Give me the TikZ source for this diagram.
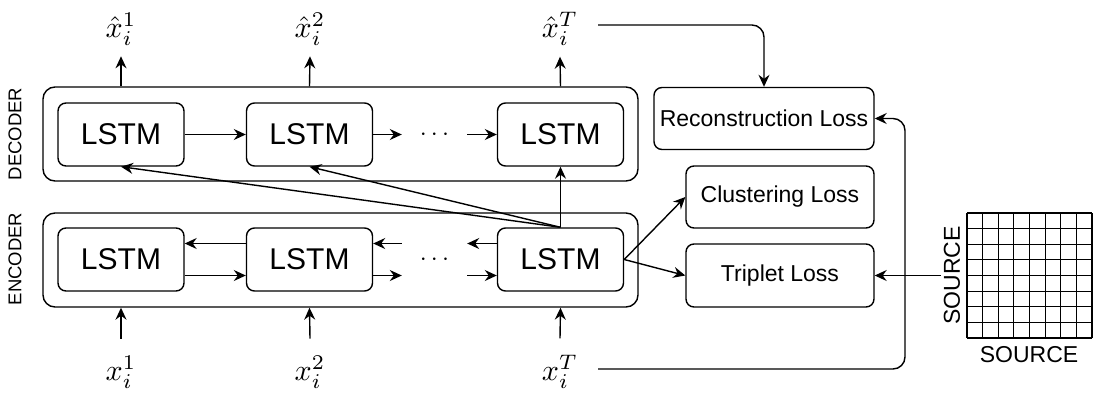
\documentclass[tikz,border=0pt]{standalone}
\usepackage[no-math]{fontspec}
\setmainfont{Liberation Sans}
\usetikzlibrary{arrows.meta,calc}
\newcommand{\bigmath}[1]{\scalebox{3.0}{$#1$}}
\begin{document}
\begin{tikzpicture}[x=1pt,y=-1pt,
 box/.style={draw, line width=1.4pt, rounded corners=8pt, inner sep=0pt},
 lstm/.style={box, minimum width=126pt, minimum height=63pt, font=\fontsize{30}{36}\selectfont},
 outer/.style={draw, line width=1.4pt, rounded corners=12pt, inner sep=0pt},
 loss/.style={box, minimum height=62pt, font=\fontsize{23}{28}\selectfont},
 arr/.style={line width=1.4pt, -{Stealth[length=12pt,width=11pt,inset=4pt]}},
 toplab/.style={font=\fontsize{10}{12}\selectfont, inner xsep=0pt, inner ysep=11pt},
 botlab/.style={font=\fontsize{10}{12}\selectfont, inner xsep=0pt, inner ysep=17pt},
 dots/.style={font=\fontsize{10}{12}\selectfont, inner sep=0pt, minimum width=65pt},
 side/.style={font=\fontsize{18.5}{22}\selectfont, rotate=90, inner sep=0pt},
 src/.style={font=\fontsize{23}{28}\selectfont, inner sep=3pt}
]
\useasboundingbox (0,0) rectangle (1093,397);

% outer boxes
\node[outer, minimum width=595pt, minimum height=94pt] (decoder) at (340.5,134) {};
\node[outer, minimum width=595pt, minimum height=94pt] (encoder) at (340.5,260) {};
\node[side] (declab) at (15,134) {DECODER};
\node[side] (enclab) at (15,259) {ENCODER};

% LSTMs
\node[lstm] (dec1) at (121,134.5) {LSTM};
\node[lstm] (dec2) at (309.5,134.5) {LSTM};
\node[lstm] (dec3) at (560.5,134.5) {LSTM};
\node[lstm] (enc1) at (121,259.5) {LSTM};
\node[lstm] (enc2) at (309.5,259.5) {LSTM};
\node[lstm] (enc3) at (560.5,259.5) {LSTM};
\node[dots] (ddots) at (434.5,134.5) {\scalebox{2.5}{$\cdots$}};
\node[dots] (edots) at (434.5,259.5) {\scalebox{2.5}{$\cdots$}};

% losses
\node[loss, minimum width=220pt] (recon) at (764,118.5) {Reconstruction Loss};
\node[loss, minimum width=188pt] (clus) at (780,197) {Clustering Loss};
\node[loss, minimum width=188pt, minimum height=63pt] (trip) at (780,275.5) {Triplet Loss};

% labels
\node[toplab] (xh1) at (121,29) {\bigmath{\hat{x}_i^1}};
\node[toplab] (xh2) at (310,29) {\bigmath{\hat{x}_i^2}};
\node[toplab] (xhT) at (560,29) {\bigmath{\hat{x}_i^T}};
\node[botlab] (x1) at (121,372) {\bigmath{x_i^1}};
\node[botlab] (x2) at (310,372) {\bigmath{x_i^2}};
\node[botlab] (xT) at (560,372) {\bigmath{x_i^T}};

% grid
\foreach \i in {0,...,8}{
  \draw[line width=1.2pt] ({967+\i*15.625},213) -- ({967+\i*15.625},338);
  \draw[line width=1.2pt] (967,{213+\i*15.625}) -- (1092,{213+\i*15.625});
}
\node[src, rotate=90] (srcL) at (952,275.5) {SOURCE};
\node[src] (srcB) at (1029,355) {SOURCE};
\coordinate (rc) at (905,0);

% decoder arrows
\draw[arr] (dec1.east) -- (dec2.west);
\draw[arr] (dec2.east) -- (ddots.west);
\draw[arr] (ddots.east) -- (dec3.west);

% encoder arrows
\draw[arr] ([yshift=16pt]enc2.west) -- ([yshift=16pt]enc1.east);
\draw[arr] ([yshift=-16pt]enc1.east) -- ([yshift=-16pt]enc2.west);
\draw[arr] ([yshift=16pt]edots.west) -- ([yshift=16pt]enc2.east);
\draw[arr] ([yshift=-16pt]enc2.east) -- ([yshift=-16pt]edots.west);
\draw[arr] ([yshift=16pt]enc3.west) -- ([yshift=16pt]edots.east);
\draw[arr] ([yshift=-16pt]edots.east) -- ([yshift=-16pt]enc3.west);

% encoder to decoder
\draw[arr] (enc3.north) -- (dec1.south);
\draw[arr] (enc3.north) -- (dec2.south);
\draw[arr] (enc3.north) -- (dec3.south);

% to losses
\draw[arr] (enc3.east) -- (clus.west);
\draw[arr] (enc3.east) -- (trip.west);
\draw[arr] (srcL.north) -- (trip.east);

% outputs
\draw[arr] (dec1.center |- decoder.north) -- (xh1.south);
\draw[arr] (dec2.center |- decoder.north) -- (xh2.south);
\draw[arr] (dec3.center |- decoder.north) -- (xhT.south);

% inputs
\draw[arr] (x1.north) -- (enc1.center |- encoder.south);
\draw[arr] (x2.north) -- (enc2.center |- encoder.south);
\draw[arr] (xT.north) -- (enc3.center |- encoder.south);

% to reconstruction
\draw[arr, rounded corners=12pt] ([xshift=20pt,yshift=4pt]xhT.east) -- ([yshift=4pt]xhT.east -| recon.north) -- (recon.north);
\draw[arr, rounded corners=12pt] ([xshift=20pt,yshift=3pt]xT.east) -- ([yshift=3pt]xT.east -| rc) -- (recon.east -| rc) -- (recon.east);
\end{tikzpicture}
\end{document}
